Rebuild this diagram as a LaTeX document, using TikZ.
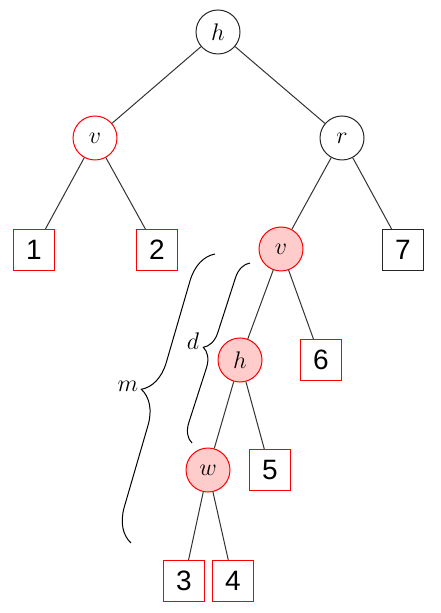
\documentclass[tikz,border=0pt]{standalone}
\usepackage{fontspec}
\newfontfamily\digitfont{Liberation Sans}
\usetikzlibrary{decorations.pathreplacing}
\begin{document}
\begin{tikzpicture}[x=0.5pt,y=-0.5pt,
  cnode/.style={circle,draw=black!85,minimum size=22pt,inner sep=0pt,line width=0.5pt,font=\fontsize{12}{14}\selectfont},
  rnode/.style={cnode,draw=red},
  pnode/.style={cnode,draw=red,fill=red!20},
  leaf/.style={rectangle,draw=red,minimum size=20.5pt,inner sep=0pt,line width=0.5pt,font=\digitfont\fontsize{14}{16}\selectfont},
  bleaf/.style={leaf,draw=black!85},
  edge/.style={line width=0.5pt,draw=black!80},
  lab/.style={inner sep=0pt,font=\fontsize{12}{14}\selectfont}]
\useasboundingbox (0,0) rectangle (440,613);
% nodes
\node[cnode] (h) at (218,32) {$h$};
\node[rnode] (v1) at (95,138) {$v$};
\node[cnode] (r) at (342,138) {$r$};
\node[leaf] (l1) at (34,250) {1};
\node[leaf] (l2) at (157,250) {2};
\node[pnode] (v2) at (281,249) {$v$};
\node[bleaf] (l7) at (403,250) {7};
\node[pnode] (h2) at (240,360) {$h$};
\node[leaf] (l6) at (321,360) {6};
\node[pnode] (w) at (208,470) {$w$};
\node[leaf] (l5) at (270,470) {5};
\node[leaf] (l3) at (184,581) {3};
\node[leaf] (l4) at (233,581) {4};
% edges
\draw[edge] (h) -- (v1);
\draw[edge] (h) -- (r);
\draw[edge] (v1) -- (l1);
\draw[edge] (v1) -- (l2);
\draw[edge] (r) -- (v2);
\draw[edge] (r) -- (l7);
\draw[edge] (v2) -- (h2);
\draw[edge] (v2) -- (l6);
\draw[edge] (h2) -- (w);
\draw[edge] (h2) -- (l5);
\draw[edge] (w) -- (l3);
\draw[edge] (w) -- (l4);
% braces
\coordinate (mb) at (131,543);
\coordinate (mt) at (215,254);
\coordinate (db) at (192,443);
\coordinate (dt) at (250,263);
\draw[line width=0.5pt,decorate,decoration={brace,amplitude=16.5pt}] (mb) -- (mt);
\draw[line width=0.5pt,decorate,decoration={brace,amplitude=9.3pt}] (db) -- (dt);
\node[lab] (m) at (128,386) {$m$};
\node[lab] (d) at (193,341) {$d$};
\end{tikzpicture}
\end{document}
